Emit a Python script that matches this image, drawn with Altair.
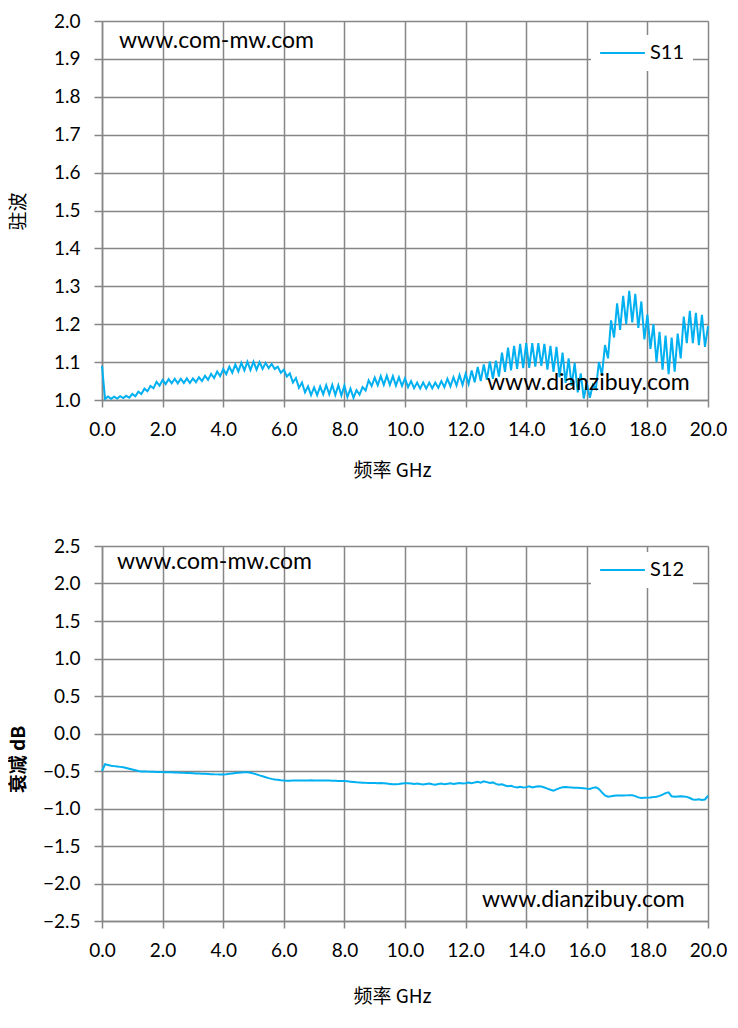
import altair as alt
import pandas as pd

# frequency sweep, GHz (0.0 .. 20.0, 0.1 GHz step)
freq = [round(i * 0.1, 1) for i in range(201)]

s11 = [
    1.090, 1.003, 1.009, 1.003, 1.009, 1.004, 1.010, 1.005, 1.011, 1.006,
    1.016, 1.010, 1.022, 1.016, 1.030, 1.023, 1.037, 1.031, 1.048, 1.038,
    1.053, 1.042, 1.055, 1.044, 1.056, 1.044, 1.056, 1.045, 1.057, 1.045,
    1.057, 1.047, 1.060, 1.050, 1.064, 1.053, 1.069, 1.058, 1.075, 1.063,
    1.082, 1.068, 1.088, 1.072, 1.094, 1.075, 1.098, 1.078, 1.101, 1.079,
    1.101, 1.080, 1.100, 1.082, 1.098, 1.084, 1.095, 1.082, 1.088, 1.072,
    1.080, 1.062, 1.070, 1.046, 1.058, 1.032, 1.046, 1.020, 1.036, 1.013,
    1.033, 1.013, 1.036, 1.015, 1.039, 1.015, 1.040, 1.013, 1.039, 1.012,
    1.038, 1.008, 1.030, 1.006, 1.026, 1.014, 1.034, 1.025, 1.052, 1.037,
    1.059, 1.039, 1.063, 1.040, 1.064, 1.040, 1.063, 1.038, 1.060, 1.037,
    1.057, 1.034, 1.050, 1.031, 1.046, 1.030, 1.046, 1.030, 1.046, 1.031,
    1.046, 1.032, 1.050, 1.034, 1.056, 1.036, 1.060, 1.038, 1.066, 1.040,
    1.069, 1.042, 1.078, 1.047, 1.087, 1.050, 1.094, 1.053, 1.102, 1.056,
    1.104, 1.062, 1.125, 1.074, 1.138, 1.078, 1.143, 1.082, 1.148, 1.084,
    1.150, 1.085, 1.150, 1.088, 1.150, 1.090, 1.148, 1.080, 1.143, 1.074,
    1.140, 1.060, 1.125, 1.045, 1.110, 1.037, 1.098, 1.020, 1.070, 1.004,
    1.045, 1.006, 1.040, 1.030, 1.100, 1.066, 1.145, 1.110, 1.210, 1.165,
    1.255, 1.185, 1.275, 1.200, 1.288, 1.205, 1.280, 1.190, 1.260, 1.160,
    1.225, 1.135, 1.200, 1.100, 1.180, 1.080, 1.170, 1.068, 1.165, 1.075,
    1.175, 1.110, 1.220, 1.150, 1.235, 1.150, 1.230, 1.145, 1.225, 1.140,
    1.195,
]

s12 = [
    -0.500, -0.410, -0.420, -0.430, -0.435, -0.440, -0.445, -0.450, -0.460, -0.470,
    -0.480, -0.490, -0.500, -0.505, -0.505, -0.508, -0.510, -0.510, -0.512, -0.513,
    -0.515, -0.516, -0.517, -0.518, -0.520, -0.521, -0.523, -0.525, -0.527, -0.528,
    -0.530, -0.532, -0.534, -0.536, -0.538, -0.540, -0.542, -0.544, -0.545, -0.546,
    -0.547, -0.543, -0.538, -0.533, -0.528, -0.524, -0.520, -0.516, -0.518, -0.524,
    -0.532, -0.545, -0.558, -0.570, -0.583, -0.595, -0.605, -0.612, -0.618, -0.624,
    -0.628, -0.630, -0.629, -0.628, -0.627, -0.626, -0.627, -0.628, -0.626, -0.625,
    -0.626, -0.627, -0.628, -0.627, -0.626, -0.628, -0.630, -0.631, -0.632, -0.633,
    -0.634, -0.638, -0.642, -0.646, -0.650, -0.653, -0.656, -0.658, -0.659, -0.660,
    -0.661, -0.662, -0.660, -0.664, -0.668, -0.672, -0.676, -0.678, -0.674, -0.668,
    -0.664, -0.663, -0.667, -0.672, -0.668, -0.674, -0.679, -0.672, -0.668, -0.676,
    -0.682, -0.674, -0.668, -0.678, -0.671, -0.663, -0.674, -0.666, -0.660, -0.668,
    -0.662, -0.655, -0.664, -0.652, -0.645, -0.655, -0.637, -0.648, -0.660, -0.652,
    -0.672, -0.684, -0.676, -0.693, -0.704, -0.698, -0.712, -0.720, -0.710, -0.720,
    -0.715, -0.705, -0.720, -0.710, -0.703, -0.708, -0.720, -0.735, -0.750, -0.762,
    -0.745, -0.728, -0.718, -0.715, -0.718, -0.720, -0.722, -0.724, -0.726, -0.730,
    -0.735, -0.740, -0.725, -0.717, -0.740, -0.785, -0.825, -0.843, -0.838, -0.830,
    -0.828, -0.827, -0.826, -0.825, -0.823, -0.822, -0.835, -0.852, -0.861, -0.858,
    -0.855, -0.852, -0.848, -0.843, -0.832, -0.815, -0.795, -0.785, -0.838, -0.842,
    -0.840, -0.838, -0.840, -0.845, -0.860, -0.880, -0.882, -0.876, -0.885, -0.880,
    -0.830,
]

x_ticks = [0, 2, 4, 6, 8, 10, 12, 14, 16, 18, 20]
y_ticks_top = [1.0, 1.1, 1.2, 1.3, 1.4, 1.5, 1.6, 1.7, 1.8, 1.9, 2.0]
y_ticks_bot = [-2.5, -2.0, -1.5, -1.0, -0.5, 0.0, 0.5, 1.0, 1.5, 2.0, 2.5]

BLUE = "#00B0F0"
GRID = "#868686"
W = 606

df11 = pd.DataFrame({"f": freq, "v": s11, "series": ["S11"] * len(freq)})
df12 = pd.DataFrame({"f": freq, "v": s12, "series": ["S12"] * len(freq)})

common_axis = dict(
    grid=True, gridColor=GRID, gridWidth=1.5,
    domainColor=GRID, domainWidth=1.5,
    tickColor=GRID, tickWidth=1.5,
    labelFont="Lato", labelFontSize=19, labelColor="black",
    labelFlush=False, titleColor="black",
)


def panel(df, name, ydom, yticks, h, ytitle, ytitle_y, ytitle_weight, xtitle_y,
          lx, ly):
    xaxis = alt.Axis(values=x_ticks, format=".1f", tickSize=7, labelPadding=13,
                     title="频率  GHz", titleFont="Noto Sans CJK SC", titleFontSize=19,
                     titleFontWeight="normal", titleX=290, titleY=xtitle_y,
                     **common_axis)
    yaxis = alt.Axis(values=yticks, format=".1f", tickSize=8, labelPadding=14,
                     title=ytitle, titleFont="Noto Sans CJK SC", titleFontSize=19,
                     titleFontWeight=ytitle_weight, titleX=-74, titleY=ytitle_y,
                     **common_axis)
    line = alt.Chart(df).mark_line(strokeWidth=2).encode(
        x=alt.X("f:Q", scale=alt.Scale(domain=[0, 20], nice=False), axis=xaxis),
        y=alt.Y("v:Q", scale=alt.Scale(domain=ydom, nice=False, zero=False), axis=yaxis),
        color=alt.Color(
            "series:N",
            scale=alt.Scale(domain=[name], range=[BLUE]),
            legend=alt.Legend(
                title=None, orient="none", legendX=lx, legendY=ly,
                fillColor="white", padding=8, clipHeight=20, symbolType="stroke",
                symbolStrokeWidth=2, symbolSize=2000, labelFont="Lato",
                labelFontSize=20, labelColor="black", labelOffset=4,
            ),
        ),
    )
    return line.properties(width=W, height=h)


def mark_label(text, px, py):
    return alt.Chart(pd.DataFrame({"t": [text]})).mark_text(
        align="left", baseline="middle", font="Lato", fontSize=23, color="black"
    ).encode(text="t:N", x=alt.value(px), y=alt.value(py))


top = alt.layer(
    panel(df11, "S11", [1.0, 2.0], y_ticks_top, 379, "驻波", 190, "normal", 61,
          489, 14),
    mark_label("www.com-mw.com", 17, 20),
    mark_label("www.dianzibuy.com", 385, 362),
)

bottom = alt.layer(
    panel(df12, "S12", [-2.5, 2.5], y_ticks_bot, 375, "衰减 dB", 213, "bold", 66,
          489, 6),
    mark_label("www.com-mw.com", 15, 16),
    mark_label("www.dianzibuy.com", 380, 354),
)

chart = alt.vconcat(top, bottom, spacing=57).resolve_scale(
    color="independent"
).resolve_legend(color="independent").properties(
    padding={"left": 1, "top": 4, "right": 0, "bottom": 5},
    background="white",
).configure_view(stroke=None)

chart.save("out.html", embed_options={"renderer": "svg", "actions": False})
